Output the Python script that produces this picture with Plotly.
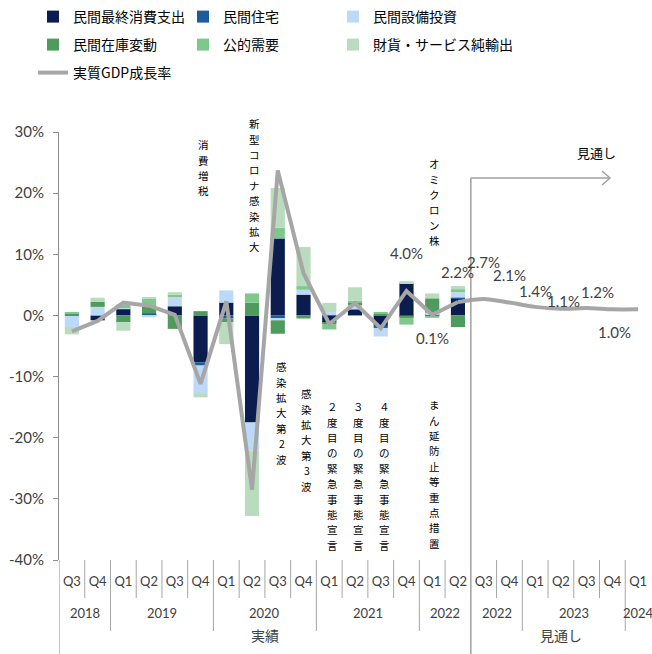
import plotly.graph_objects as go

# ---------------- data ----------------
quarters = ["Q3", "Q4", "Q1", "Q2", "Q3", "Q4", "Q1", "Q2", "Q3", "Q4", "Q1", "Q2",
            "Q3", "Q4", "Q1", "Q2", "Q3", "Q4", "Q1", "Q2", "Q3", "Q4", "Q1"]
years = ["2018", "2019", "2020", "2021", "2022", "2022", "2023", "2024"]
year_spans = [(0, 1), (2, 5), (6, 9), (10, 13), (14, 15), (16, 17), (18, 21), (22, 22)]
groups = ["実績", "見通し"]
group_spans = [(0, 15), (16, 22)]

consumption = [0.0, -0.8, 0.9, 0.2, 1.5, -7.7, 2.1, -17.5, 12.6, 3.4, -1.2, 1.0, -1.7, 5.3, 0.15, 2.8]
housing = [0.0, 0.0, 0.2, 0.1, 0.0, -0.5, -0.5, 0.0, -0.5, 0.0, 0.05, 0.0, -0.35, -0.1, 0.0, 0.1]
capex = [-1.9, 1.4, 0.1, -0.3, 1.5, -4.5, 2.0, -4.6, -0.3, 0.8, 0.5, 0.65, -1.4, 0.0, 0.3, 0.9]
inventory = [0.3, 0.8, -1.1, 1.2, -2.2, 0.7, -0.6, 2.1, -2.2, -0.5, -0.3, 0.45, 0.3, -0.3, 2.35, -1.9]
public = [0.1, 0.0, 0.6, 1.2, 0.4, 0.0, 0.0, 1.5, 1.75, 0.6, -0.8, 0.3, 0.1, -1.1, -0.4, 0.5]
net_exports = [-1.2, 0.7, -1.4, 0.2, 0.4, -0.7, -3.6, -10.7, 6.5, 6.4, 1.5, 2.2, 0.0, 0.3, 0.8, 0.5]

gdp = [-2.6, -0.9, 2.1, 1.6, 0.1, -11.2, 2.3, -28.5, 23.7, 6.9, -1.4, 2.0, -2.1, 4.0, 0.1,
       2.2, 2.7, 2.1, 1.4, 1.1, 1.2, 1.0, 1.0]
labeled_idx = [13, 14, 15, 16, 17, 18, 19, 20, 21]
forecast_start = 15  # last actual quarter (2022Q2); smooth line from here

y_ticks = [-40, -30, -20, -10, 0, 10, 20, 30]

event_texts = ["消費増税", "新型コロナ感染拡大", "感染拡大第2波", "感染拡大第3波",
               "２度目の緊急事態宣言", "３度目の緊急事態宣言", "４度目の緊急事態宣言",
               "まん延防止等重点措置", "オミクロン株"]

# ---------------- styles ----------------
series = [
    ("民間最終消費支出", consumption, "#0b1d4f", "legend"),
    ("民間住宅", housing, "#1b5c9b", "legend2"),
    ("民間設備投資", capex, "#bcdaf7", "legend3"),
    ("民間在庫変動", inventory, "#4f9a5d", "legend4"),
    ("公的需要", public, "#7ec98a", "legend5"),
    ("財貨・サービス純輸出", net_exports, "#b9dcbe", "legend6"),
]
label_shift = [38, -23, 30, 37, 28, 16, 8, 16, -23]
label_xoff = [0, 0, 0, 0, 0, 0, 3, 11, 2]
# (x in category units, top pixel) for each vertical event text
event_pos = [(5.1, 137), (7.1, 116), (8.16, 359), (9.13, 386), (10.14, 399), (11.15, 399),
             (12.16, 399), (14.1, 397), (14.1, 156)]
V_FS, V_PITCH = 10.5, 15.4

W, H = 652, 654
L, R, T, B = 59, 651, 132, 560
JP = "Noto Sans CJK JP"
NUM = "Lato, Noto Sans CJK JP"
GRAY = "#404040"
AXC = "#8c8c8c"


def py(p):
    return (B - p) / (B - T)


def px(p):
    return (p - L) / (R - L)


fig = go.Figure()
for name, vals, color, lg in series:
    fig.add_trace(go.Bar(x=list(range(len(vals))), y=vals, name=name,
                         marker=dict(color=color, line=dict(width=0)), legend=lg))

xs = list(range(len(gdp)))
fig.add_trace(go.Scatter(x=xs[:forecast_start + 1], y=gdp[:forecast_start + 1], mode="lines",
                         name="実質GDP成長率", line=dict(color="#a6a6a6", width=4),
                         legend="legend7"))
fig.add_trace(go.Scatter(x=xs[forecast_start:], y=gdp[forecast_start:], mode="lines",
                         line=dict(color="#a6a6a6", width=4, shape="spline", smoothing=0.8),
                         showlegend=False))

# data labels on GDP line
for k, i in enumerate(labeled_idx):
    fig.add_annotation(x=i, y=gdp[i], text=f"{gdp[i]:.1f}%", showarrow=False,
                       yshift=label_shift[k], xshift=label_xoff[k],
                       font=dict(family=NUM, size=15, color=GRAY))

# vertical (tategaki) event texts, one glyph per line position
for txt, (xc, top) in zip(event_texts, event_pos):
    for k, ch in enumerate(txt):
        fig.add_annotation(x=xc, xref="x", y=py(top + V_PITCH * (k + 0.5)), yref="paper",
                           yanchor="middle", text=ch, showarrow=False, borderpad=0,
                           font=dict(family=JP, size=V_FS, color="#000000"))

# forecast marker
fig.add_annotation(x=20.4, xref="x", y=py(141), yref="paper", text="見通し", showarrow=False,
                   font=dict(family=JP, size=13, color="#000000"))
fig.add_shape(type="line", xref="x", yref="paper", x0=15.5, x1=15.5, y0=py(178), y1=py(654),
              line=dict(color="#a0a0a0", width=1.5))
fig.add_shape(type="line", xref="x", yref="paper", x0=15.5, x1=20.9, y0=py(178), y1=py(178),
              line=dict(color="#a0a0a0", width=1.5))
fig.add_shape(type="path", xref="paper", yref="paper",
              path=f"M {px(602)},{py(171)} L {px(610)},{py(178)} L {px(602)},{py(185)}",
              line=dict(color="#a0a0a0", width=1.5))

# multi-level category axis: separators
for i in range(len(quarters) - 1):
    b = i + 0.5
    end = 598
    if any(b == s[1] + 0.5 for s in year_spans):
        end = 631
    if any(b == s[1] + 0.5 for s in group_spans[:-1]):
        continue
    fig.add_shape(type="line", xref="x", yref="paper", x0=b, x1=b, y0=0, y1=py(end),
                  line=dict(color="#a6a6a6", width=1))
fig.add_shape(type="line", xref="x", yref="paper", x0=-0.5, x1=-0.5, y0=0, y1=py(654),
              line=dict(color=AXC, width=1))

for name, (a, b2) in zip(years, year_spans):
    fig.add_annotation(x=(a + b2) / 2, xref="x", y=py(623), yref="paper", text=name,
                       showarrow=False, font=dict(family=NUM, size=13, color=GRAY))
for name, (a, b2) in zip(groups, group_spans):
    fig.add_annotation(x=(a + b2) / 2, xref="x", y=py(647), yref="paper", text=name,
                       showarrow=False, font=dict(family=JP, size=14, color=GRAY))

legend_common = dict(orientation="h", xanchor="left", yanchor="middle",
                     font=dict(family=JP, size=14, color="#000000"),
                     bgcolor="rgba(0,0,0,0)", borderwidth=0)
col_x = [33, 183, 333]
row_y = [17, 45, 73]
legend_pos = {
    "legend": (col_x[0], row_y[0]), "legend2": (col_x[1], row_y[0]), "legend3": (col_x[2], row_y[0]),
    "legend4": (col_x[0], row_y[1]), "legend5": (col_x[1], row_y[1]), "legend6": (col_x[2], row_y[1]),
    "legend7": (col_x[0], row_y[2]),
}
legends = {k: dict(x=px(v[0]), y=py(v[1]), **legend_common) for k, v in legend_pos.items()}

fig.update_layout(
    width=W, height=H,
    margin=dict(l=L, r=W - R, t=T, b=H - B, autoexpand=False),
    paper_bgcolor="white", plot_bgcolor="white",
    barmode="relative", bargap=0.45,
    showlegend=True,
    **legends,
    xaxis=dict(range=[-0.5, 22.5], tickvals=list(range(len(quarters))), ticktext=quarters,
               showline=False, ticks="", showgrid=False, zeroline=False,
               tickfont=dict(family=NUM, size=13, color=GRAY), ticklabelstandoff=12),
    xaxis2=dict(overlaying="x", anchor="free", position=(0 - y_ticks[0]) / (y_ticks[-1] - y_ticks[0]),
                range=[-0.5, 22.5], tickvals=[i + 0.5 for i in range(len(quarters) - 1)],
                ticks="outside", ticklen=4, tickcolor=AXC, showline=True, linecolor=AXC,
                showticklabels=False, showgrid=False, zeroline=False, side="bottom"),
    yaxis=dict(range=[y_ticks[0], y_ticks[-1]], tickvals=y_ticks, ticktext=[f"{v}%" for v in y_ticks],
               ticks="outside", ticklen=5, tickcolor=AXC, showline=True, linecolor=AXC,
               showgrid=False, zeroline=False, ticklabelstandoff=6,
               tickfont=dict(family=NUM, size=15, color=GRAY)),
)

fig.write_html("out.html")
